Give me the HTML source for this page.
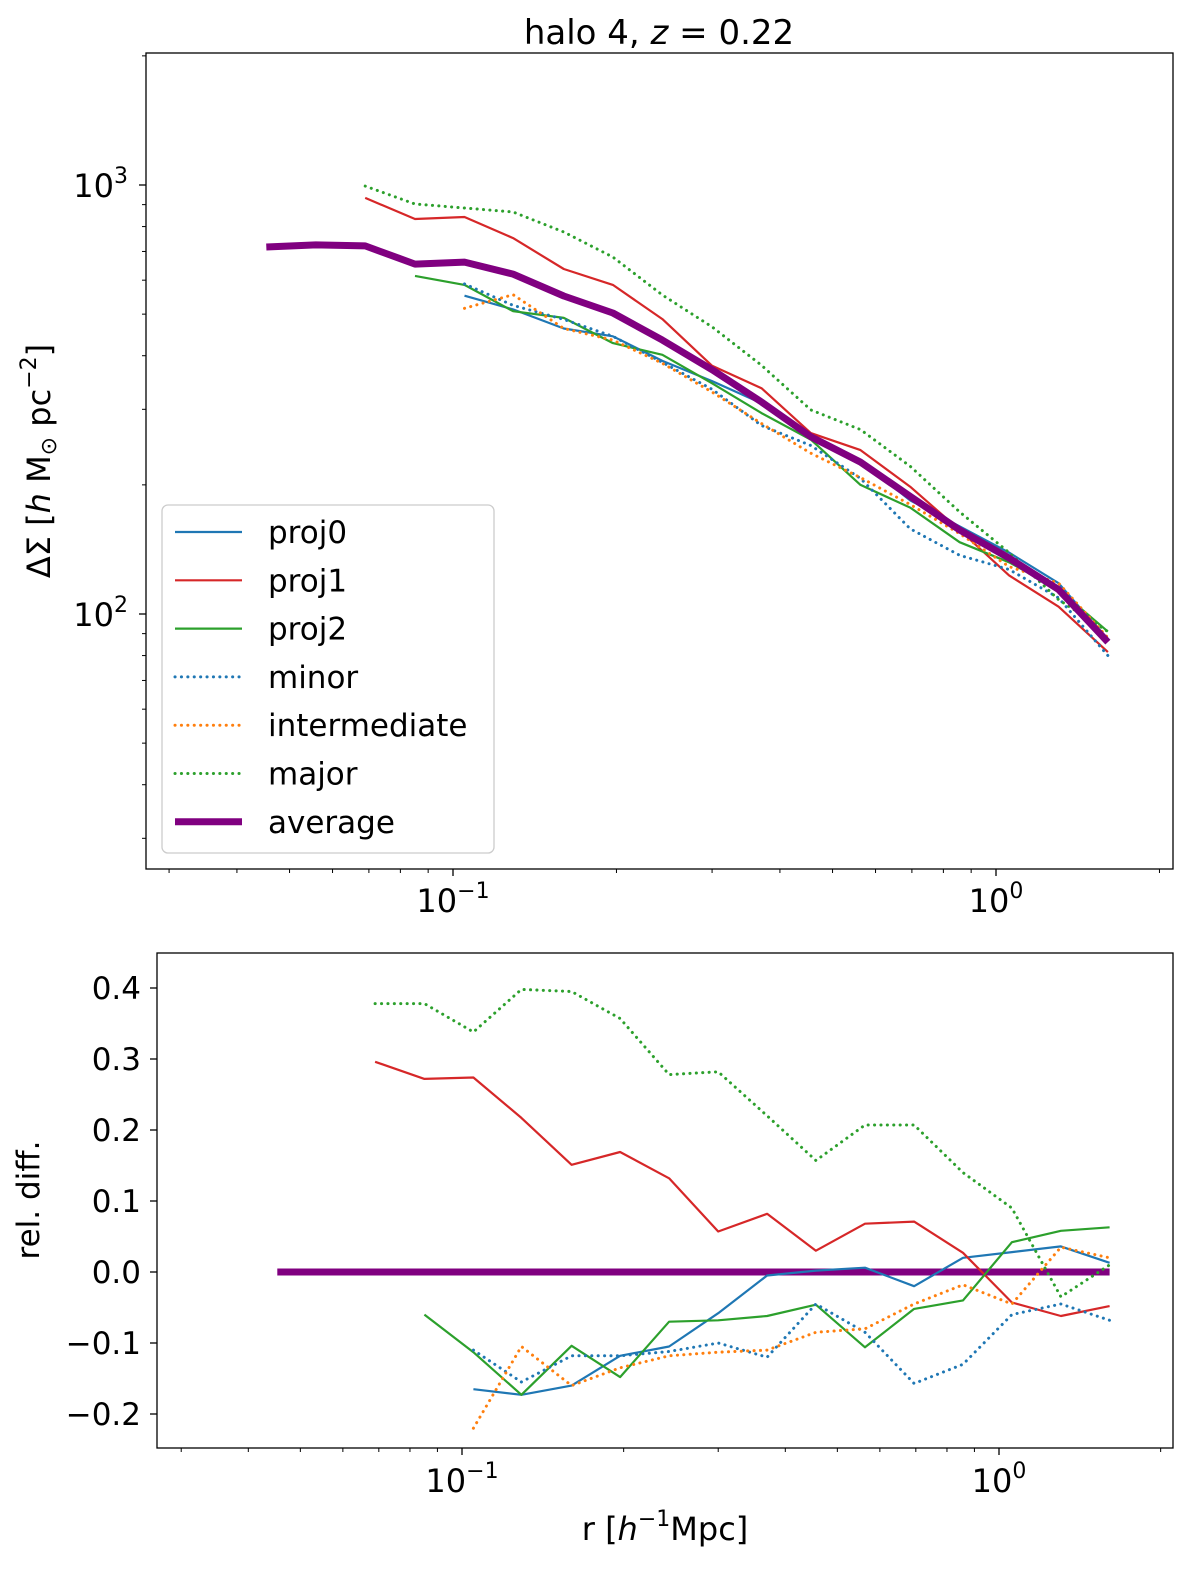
<!DOCTYPE html>
<html><head><meta charset="utf-8"><style>
html,body{margin:0;padding:0;background:#fff;overflow:hidden;width:1200px;height:1589px;}
svg{display:block;font-family:"DejaVu Sans","Liberation Sans",sans-serif;}
</style></head><body>
<svg id="fig" width="1200" height="1589" viewBox="0 0 1200 1589" xmlns="http://www.w3.org/2000/svg">
<text x="659" y="44" font-size="34" text-anchor="middle">halo 4, <tspan font-style="italic">z</tspan> = 0.22</text>
<g id="top"></g>
<g id="bot"></g>
</svg>
<script>
const radii=[0.0453,0.0559,0.0689,0.0851,0.105,0.129,0.160,0.197,0.243,0.300,0.370,0.456,0.563,0.695,0.857,1.057,1.304,1.607];
// top: Delta Sigma values (start index noted)
const avgVals=[717,725,721,654,661,620,551,503,435,371,312,259,226,188,157,135,114,86];
const proj0Vals=[552,513,463,444,389,349,310,260,227,184,160,139,118,87]; // from i=4
const proj1Vals=[933,833,842,752,637,585,487,379,336,264,241,198,157,123,104,81.5]; // from i=2
const proj2Vals=[614,585,508,490,428,402,345,294,255,200,177,147,132,114,91]; // from i=3
const minorVals=[588,524,486,444,386,334,275,247,207,158,137,127,109,80]; // i=4
const interVals=[516,555,463,435,384,329,278,237,208,180,154,129,118,88]; // i=4
const majorVals=[994,903,884,865,777,679,554,467,380,299,269,221,173,139,108,91]; // i=2
// bottom: relative differences
const avgRel=[0,0,0,0,0,0,0,0,0,0,0,0,0,0,0,0,0,0];
const proj0Rel=[-0.165,-0.173,-0.160,-0.118,-0.105,-0.058,-0.005,0.002,0.006,-0.020,0.020,0.028,0.036,0.013];
const proj1Rel=[0.296,0.272,0.274,0.217,0.151,0.169,0.132,0.057,0.082,0.030,0.068,0.071,0.027,-0.043,-0.062,-0.048];
const proj2Rel=[-0.06,-0.113,-0.173,-0.104,-0.148,-0.07,-0.068,-0.062,-0.046,-0.106,-0.052,-0.04,0.042,0.058,0.063];
const minorRel=[-0.11,-0.155,-0.118,-0.118,-0.112,-0.100,-0.12,-0.045,-0.085,-0.157,-0.13,-0.06,-0.045,-0.068];
const interRel=[-0.22,-0.105,-0.16,-0.135,-0.118,-0.113,-0.11,-0.085,-0.08,-0.045,-0.018,-0.045,0.035,0.02];
const majorRel=[0.378,0.378,0.338,0.398,0.395,0.357,0.278,0.282,0.22,0.157,0.207,0.207,0.14,0.09,-0.035,0.01];
const seriesNames=['proj0','proj1','proj2','minor','intermediate','major','average'];
const yTopTicks=[100,1000];
const yBotTicks=[0.4,0.3,0.2,0.1,0.0,-0.1,-0.2];

const NS='http://www.w3.org/2000/svg';
function mk(parent,tag,attrs){const e=document.createElementNS(NS,tag);for(const k in attrs)e.setAttribute(k,attrs[k]);parent.appendChild(e);return e;}
const L=Math.log10;
const T={x0:146,x1:1173,y0:53,y1:869};
const tx=v=>453+(L(v)+1)*543;
const ty=v=>614-(L(v)-2)*429;
const B={x0:157,x1:1173,y0:953,y1:1448};
const bx=v=>462+(L(v)+1)*537;
const by=v=>988+(0.4-v)*710;

const styles={
 proj0:{c:'#1f77b4',w:2.2,d:''},proj1:{c:'#d62728',w:2.2,d:''},proj2:{c:'#2ca02c',w:2.2,d:''},
 minor:{c:'#1f77b4',w:3,d:'0.1 6.3'},intermediate:{c:'#ff7f0e',w:3,d:'0.1 6.3'},major:{c:'#2ca02c',w:3,d:'0.1 6.3'},
 average:{c:'#800080',w:7,d:''}};

function drawPanel(g,box,fx,fy,list){
  mk(g,'rect',{x:box.x0,y:box.y0,width:box.x1-box.x0,height:box.y1-box.y0,fill:'none',stroke:'#000','stroke-width':1.3});
  const clip=mk(g,'g',{});
  list.forEach(([name,vals,start])=>{
    const s=styles[name];
    const pts=vals.map((v,i)=>fx(radii[start+i]).toFixed(1)+','+fy(v).toFixed(1)).join(' ');
    const p=mk(clip,'polyline',{points:pts,fill:'none',stroke:s.c,'stroke-width':s.w,'stroke-dasharray':s.d,'stroke-linejoin':'round','stroke-linecap':s.d?'round':'butt'});
    
    
  });
}
function xTicks(g,box,fx,labY){
  for(let e=-2;e<=0;e++)for(let m=1;m<=9;m++){
    const v=m*Math.pow(10,e);const x=fx(v);
    if(x<box.x0||x>box.x1)continue;
    const major=m===1;
    mk(g,'line',{x1:x,x2:x,y1:box.y1,y2:box.y1+(major?7:4),stroke:'#000','stroke-width':major?1.3:1});
    if(major){
      const t=mk(g,'text',{x:x,y:labY,'font-size':32,'text-anchor':'middle'});
      
      
      t.innerHTML='10<tspan font-size="22" dy="-14">'+(e===0?'0':'−1')+'</tspan>';
    }
  }
}
const gt=document.getElementById('top');
drawPanel(gt,T,tx,ty,[['proj0',proj0Vals,4],['proj1',proj1Vals,2],['proj2',proj2Vals,3],['minor',minorVals,4],['intermediate',interVals,4],['major',majorVals,2],['average',avgVals,0]]);
xTicks(gt,T,tx,912);
for(let e=1;e<=3;e++)for(let m=1;m<=9;m++){
  const v=m*Math.pow(10,e);const y=ty(v);
  if(y<T.y0||y>T.y1)continue;
  mk(gt,'line',{x1:T.x0,x2:T.x0-(m===1?7:4),y1:y,y2:y,stroke:'#000','stroke-width':m===1?1.3:1});
}
yTopTicks.forEach(v=>{
  const t=mk(gt,'text',{x:128,y:ty(v)+12,'font-size':32,'text-anchor':'end'});
  
  
  t.innerHTML='10<tspan font-size="22" dy="-14">'+L(v)+'</tspan>';
});
const yl=mk(gt,'text',{x:0,y:0,'font-size':32,'text-anchor':'middle',transform:'translate(50,461) rotate(-90)'});


yl.innerHTML='ΔΣ [<tspan font-style="italic">h</tspan> M<tspan font-size="22" dy="6">⊙</tspan><tspan dy="-6"> pc</tspan><tspan font-size="22" dy="-14">−2</tspan><tspan dy="14">]</tspan>';
const lg=mk(gt,'g',{});


mk(lg,'rect',{x:162,y:505,width:332,height:348,rx:6,fill:'#fff','fill-opacity':0.8,stroke:'#ccc','stroke-width':1.3});
seriesNames.forEach((n,i)=>{
  const y=532+i*48.3;const s=styles[n];
  const e=mk(lg,'g',{});
  
  
  mk(e,'line',{x1:175,x2:242,y1:y,y2:y,stroke:s.c,'stroke-width':s.w,'stroke-dasharray':s.d,'stroke-linecap':s.d?'round':'butt'});
  const t=mk(e,'text',{x:268,y:y+11,'font-size':31});t.textContent=n;
});
const gb=document.getElementById('bot');
drawPanel(gb,B,bx,by,[['average',avgRel,0],['proj0',proj0Rel,4],['proj1',proj1Rel,2],['proj2',proj2Rel,3],['minor',minorRel,4],['intermediate',interRel,4],['major',majorRel,2]]);
xTicks(gb,B,bx,1492);
yBotTicks.forEach(v=>{
  const y=by(v);
  mk(gb,'line',{x1:B.x0,x2:B.x0-7,y1:y,y2:y,stroke:'#000','stroke-width':1.3});
  const t=mk(gb,'text',{x:141,y:y+11,'font-size':31,'text-anchor':'end'});
  
  
  t.textContent=(v<0?'−':'')+Math.abs(v).toFixed(1);
});
const yl2=mk(gb,'text',{x:0,y:0,'font-size':31,'text-anchor':'middle',transform:'translate(39,1200) rotate(-90)'});


yl2.textContent='rel. diff.';
const xl=mk(gb,'text',{x:665,y:1540,'font-size':32,'text-anchor':'middle'});


xl.innerHTML='r [<tspan font-style="italic">h</tspan><tspan font-size="22" dy="-14">−1</tspan><tspan dy="14">Mpc]</tspan>';
</script>
</body></html>
